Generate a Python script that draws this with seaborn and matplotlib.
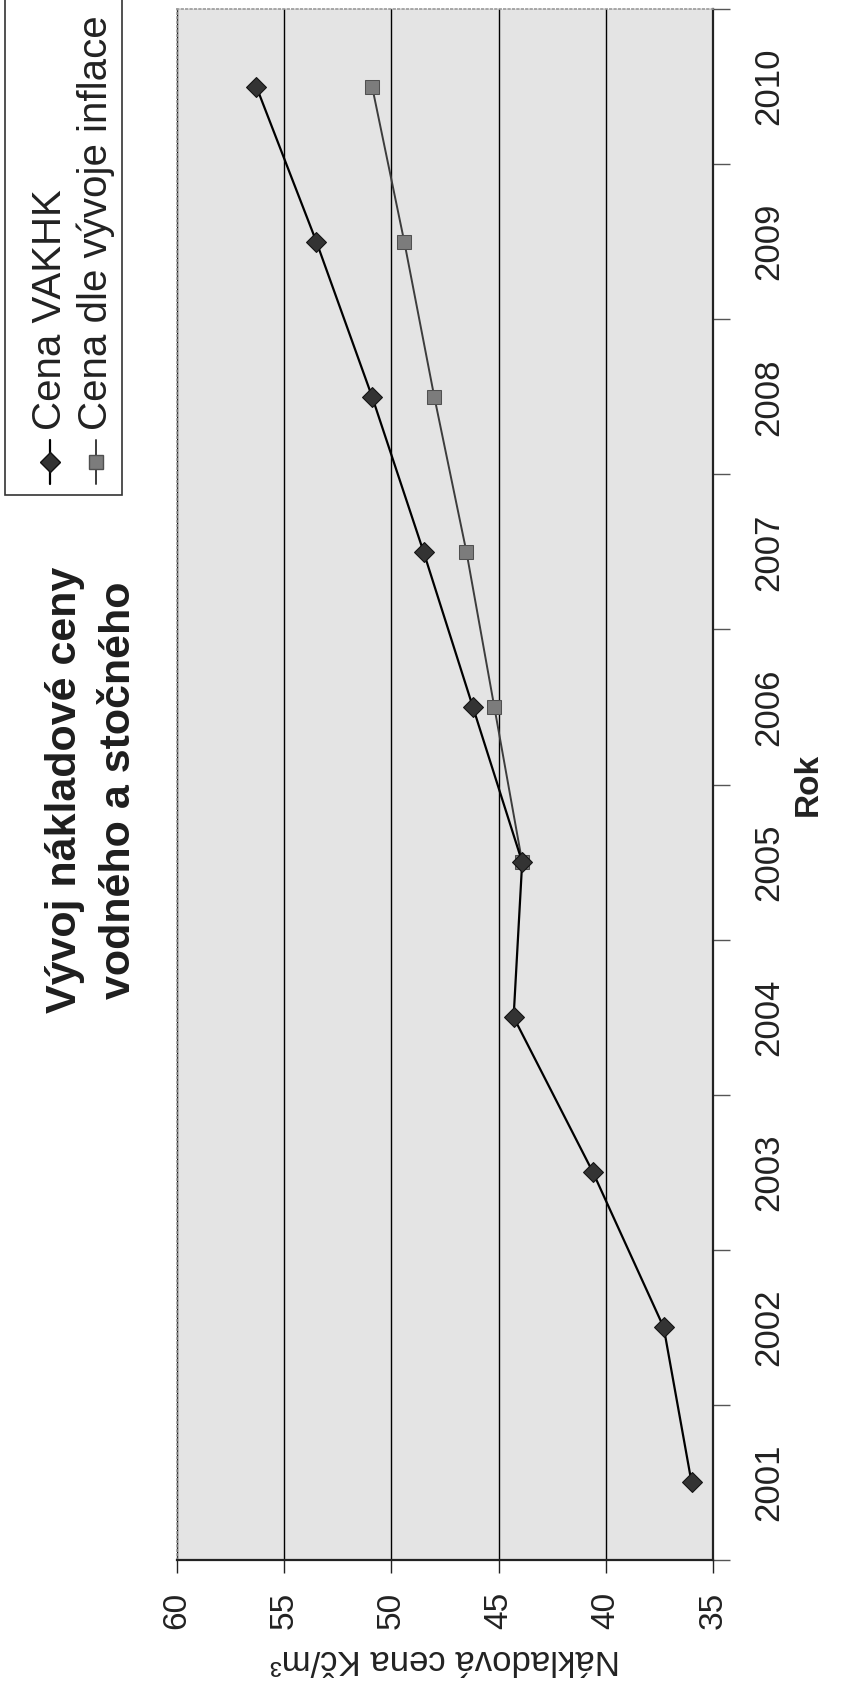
import matplotlib
matplotlib.use("Agg")
import matplotlib.pyplot as plt
import seaborn as sns
import pandas as pd
from matplotlib.lines import Line2D
from matplotlib.patches import Rectangle

# values
years = [2001, 2002, 2003, 2004, 2005, 2006, 2007, 2008, 2009, 2010]
cena_vakhk = [36.0, 37.3, 40.6, 44.3, 43.9, 46.2, 48.5, 50.9, 53.5, 56.3]
infl_years = [2005, 2006, 2007, 2008, 2009, 2010]
cena_inflace = [43.9, 45.2, 46.5, 48.0, 49.4, 50.9]
value_ticks = [35, 40, 45, 50, 55, 60]
series_names = ['Cena VAKHK', 'Cena dle vývoje inflace']

sns.set_theme(style="white")
plt.rcParams['font.family'] = ['Liberation Sans', 'DejaVu Sans']

W, H = 841, 1688
fig = plt.figure(figsize=(W / 100, H / 100), dpi=100)
fig.patch.set_facecolor('white')

# the whole chart is turned by 90 degrees: values run horizontally, years vertically
ax = fig.add_axes([177 / W, 1 - 1560 / H, (713 - 177) / W, (1560 - 9) / H])
ax.set_facecolor('#e4e4e4')

df1 = pd.DataFrame({'rok': years, 'cena': cena_vakhk})
df2 = pd.DataFrame({'rok': infl_years, 'cena': cena_inflace})
sns.lineplot(data=df2, x='cena', y='rok', sort=False, orient='y', ax=ax,
             color='#3c3c3c', lw=1.4, marker='s', ms=10, mfc='#7c7c7c', mec='#505050', zorder=3)
sns.lineplot(data=df1, x='cena', y='rok', sort=False, orient='y', ax=ax,
             color='black', lw=1.6, marker='D', ms=10, mfc='#333333', mec='#111111', zorder=4)

ax.set_xlim(60, 35)
ax.set_ylim(2000.5, 2010.5)

ax.set_xticks(value_ticks)
ax.set_xticklabels([str(v) for v in value_ticks], rotation=90, fontsize=24, color='#222222')
ax.tick_params(axis='x', direction='out', length=9, width=1, pad=14, colors='#222222', bottom=True)
ax.grid(True, axis='x', color='black', lw=1)
ax.grid(False, axis='y')
ax.set_axisbelow(True)

ax.yaxis.tick_right()
ax.set_yticks(years)
ax.set_yticklabels([str(y) for y in years], rotation=90, va='center', fontsize=25, color='#222222')
ax.set_yticks([y + 0.5 for y in [2000] + years], minor=True)
ax.tick_params(axis='y', which='major', length=0, pad=28, right=True, left=False)
ax.tick_params(axis='y', which='minor', direction='out', length=12, width=1,
               color='#555555', right=True, left=False)

for side in ['left', 'top']:
    ax.spines[side].set_color('#9a9a9a')
    ax.spines[side].set_linewidth(1.2)
    ax.spines[side].set_linestyle(':')
for side in ['right', 'bottom']:
    ax.spines[side].set_color('#222222')
    ax.spines[side].set_linewidth(1.6)

ax.set_xlabel('Nákladová cena Kč/m³', rotation=180, fontsize=25, labelpad=10, color='#222222')
ax.yaxis.set_label_position('right')
ax.set_ylabel('Rok', rotation=90, fontsize=24, fontweight='bold', labelpad=6, color='#222222')

# title, turned like the rest of the chart (left of the plot area)
fig.text(92 / W, 1 - 790 / H, 'Vývoj nákladové ceny\nvodného a stočného',
         rotation=90, ha='center', va='center', multialignment='center',
         fontsize=31, fontweight='bold', linespacing=1.45, color='#1e1e1e')

# legend drawn by hand, since it is rotated as well (top left corner)
lax = fig.add_axes([0, 1 - 500 / H, 130 / W, 500 / H])
lax.set_xlim(0, 130)
lax.set_ylim(500, 0)
lax.axis('off')
lax.add_patch(Rectangle((5, -10), 117, 505, fill=False, ec='#333333', lw=1.2, clip_on=False))
lax.add_line(Line2D([50, 50], [440, 484], color='black', lw=1.6))
lax.plot([50], [462], marker='D', ms=10, mfc='#333333', mec='#111111', ls='none')
lax.add_line(Line2D([96, 96], [440, 484], color='#3c3c3c', lw=1.4))
lax.plot([96], [462], marker='s', ms=10, mfc='#7c7c7c', mec='#505050', ls='none')
lax.text(50, 430, series_names[0], rotation=90, ha='center', va='bottom', fontsize=29, color='#222222')
lax.text(96, 430, series_names[1], rotation=90, ha='center', va='bottom', fontsize=29, color='#222222')

fig.savefig('out.png', dpi=100, facecolor='white')
